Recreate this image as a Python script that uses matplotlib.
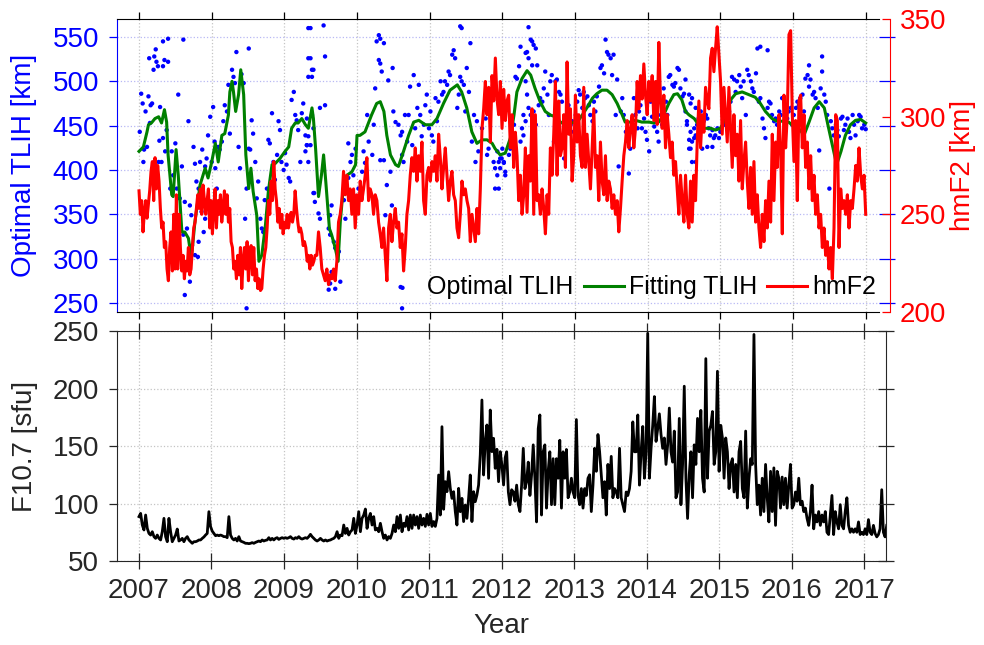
import numpy as np
import matplotlib
matplotlib.use("Agg")
import matplotlib.pyplot as plt

plt.rcParams['font.family'] = ['Liberation Sans', 'DejaVu Sans']

# Optimal TLIH (blue dots): decimal year, km
tlih_year = [
    2007.01, 2007.03, 2007.05, 2007.06, 2007.07, 2007.09, 2007.11, 2007.13, 2007.14, 2007.15,
    2007.16, 2007.18, 2007.20, 2007.21, 2007.23, 2007.24, 2007.26, 2007.27, 2007.28, 2007.29,
    2007.31, 2007.33, 2007.33, 2007.35, 2007.36, 2007.38, 2007.40, 2007.33, 2007.40, 2007.43,
    2007.45, 2007.47, 2007.50, 2007.52, 2007.54, 2007.56, 2007.59, 2007.61, 2007.63, 2007.66,
    2007.68, 2007.70, 2007.72, 2007.75, 2007.77, 2007.79, 2007.82, 2007.84, 2007.86, 2007.87,
    2007.89, 2007.91, 2007.93, 2007.95, 2007.98, 2008.00, 2008.02, 2008.04, 2008.05, 2008.07,
    2008.09, 2008.11, 2008.14, 2008.16, 2008.18, 2008.21, 2008.23, 2008.25, 2008.28, 2008.30,
    2008.32, 2008.34, 2008.37, 2008.39, 2008.41, 2008.44, 2008.46, 2008.48, 2008.51, 2008.53,
    2008.55, 2008.57, 2008.60, 2008.62, 2008.64, 2008.67, 2008.69, 2008.71, 2008.73, 2008.76,
    2008.78, 2008.80, 2008.83, 2008.85, 2008.87, 2008.90, 2008.92, 2008.94, 2008.96, 2008.99,
    2009.01, 2009.03, 2009.06, 2009.08, 2009.10, 2009.13, 2009.15, 2009.17, 2009.19, 2009.22,
    2009.24, 2009.26, 2009.29, 2009.31, 2009.33, 2009.36, 2009.38, 2009.40, 2009.41, 2008.51,
    2008.48, 2007.63, 2007.70, 2007.81, 2007.61, 2007.73, 2007.82, 2007.91, 2007.77,
    2009.33, 2009.54, 2009.36, 2009.56, 2009.38, 2009.33, 2009.56, 2009.49, 2009.38, 2009.31,
    2009.40, 2009.33, 2009.31, 2009.36, 2009.29, 2009.33, 2009.40, 2009.47, 2009.49, 2009.42,
    2009.65, 2009.63, 2009.61, 2009.63, 2009.68, 2009.70, 2009.75, 2009.77, 2009.70, 2009.63,
    2009.61, 2009.65, 2009.84, 2009.82, 2009.86, 2009.88, 2009.91, 2009.93, 2009.95, 2009.98,
    2009.88, 2009.95, 2010.02, 2010.07, 2010.09, 2010.11, 2010.14, 2010.16, 2010.21, 2010.23,
    2010.25, 2010.27, 2010.30, 2010.32, 2010.37, 2010.30, 2010.32, 2010.34, 2010.43, 2010.49,
    2010.50, 2010.53, 2010.37, 2010.32, 2010.41, 2010.46, 2010.48, 2010.57, 2010.60, 2010.62,
    2010.62, 2010.64, 2010.66, 2010.69, 2010.71, 2010.73, 2010.76, 2010.78, 2010.80, 2010.83,
    2010.85, 2010.87, 2010.89, 2010.92, 2010.94, 2010.96, 2010.99, 2011.01, 2011.03, 2011.05,
    2011.08, 2011.10, 2011.12, 2011.15, 2011.17, 2011.19, 2011.21, 2011.24, 2011.26, 2011.28,
    2011.31, 2011.33, 2011.35, 2011.38, 2011.40, 2011.42, 2011.44, 2011.47, 2011.49, 2011.51,
    2011.54, 2011.56, 2011.58, 2011.61, 2011.63, 2011.65, 2011.67, 2011.72, 2011.77, 2011.79,
    2011.81, 2011.86, 2011.88, 2011.90, 2011.93, 2011.95, 2011.97, 2012.00, 2012.02, 2011.44,
    2011.42, 2010.62, 2010.60, 2010.46, 2010.39,
    2011.93, 2011.95, 2011.97, 2011.99, 2012.02, 2012.04, 2011.90, 2012.04, 2012.09, 2012.11,
    2012.16, 2012.18, 2012.20, 2012.23, 2012.36, 2012.25, 2012.32, 2012.34, 2012.36, 2012.39,
    2012.41, 2012.43, 2012.46, 2012.48, 2012.41, 2012.32, 2012.34, 2012.36, 2012.29, 2012.32,
    2012.27, 2012.29, 2012.25, 2012.39, 2012.43, 2012.46, 2012.50, 2012.52, 2012.55, 2012.57,
    2012.59, 2012.62, 2012.64, 2012.66, 2012.68, 2012.71, 2012.73, 2012.75, 2012.78, 2012.80,
    2012.82, 2012.85, 2012.87, 2012.89, 2012.91, 2012.94, 2012.96, 2012.98, 2013.01, 2013.03,
    2013.05, 2013.07, 2013.10, 2013.12, 2013.14, 2013.17, 2013.19, 2013.21, 2013.24, 2013.26,
    2013.28, 2013.30, 2013.33, 2013.35, 2013.37, 2013.40, 2013.42, 2013.44, 2013.46, 2013.49,
    2013.51, 2013.53, 2013.56, 2013.58, 2013.60, 2013.63, 2013.65, 2013.67, 2013.70, 2013.72,
    2013.74, 2013.76, 2013.79, 2013.81, 2013.83, 2013.86, 2013.88, 2013.90, 2013.92, 2013.95,
    2013.97, 2013.99, 2014.02, 2014.04, 2014.06, 2014.09, 2014.11, 2014.13, 2014.15, 2014.18,
    2014.20, 2014.22, 2014.25, 2014.27, 2014.29, 2014.31, 2014.34, 2014.36, 2014.38, 2014.41,
    2014.43, 2014.45, 2014.48, 2014.50, 2014.52, 2014.54, 2014.57, 2014.59, 2014.61, 2014.64,
    2014.66,
    2014.52, 2014.57, 2014.59, 2014.61, 2014.66, 2014.54, 2014.59, 2014.64, 2014.68, 2014.70,
    2014.73, 2014.75, 2014.77, 2014.80, 2014.82, 2014.84, 2014.86, 2014.89, 2014.91, 2014.93,
    2014.96, 2014.98, 2015.00, 2014.57, 2014.61, 2014.66, 2014.75, 2014.82, 2014.89, 2015.05,
    2015.07, 2015.09, 2015.12, 2015.14, 2015.16, 2015.19, 2015.21, 2015.23, 2015.26, 2015.28,
    2015.30, 2015.32, 2015.35, 2015.37, 2015.39, 2015.42, 2015.44, 2015.46, 2015.49, 2015.51,
    2015.53, 2015.55, 2015.58, 2015.60, 2015.62, 2015.65, 2015.67, 2015.69, 2015.71, 2015.74,
    2015.76, 2015.78, 2015.81, 2015.83, 2015.85, 2015.88, 2015.90, 2015.92, 2015.94, 2015.97,
    2015.99, 2016.01, 2016.04, 2016.06, 2016.08, 2016.10, 2016.13, 2016.15, 2016.17, 2016.20,
    2016.22, 2016.24, 2016.27, 2016.29, 2016.31, 2016.34, 2016.36, 2016.38, 2016.40, 2016.43,
    2016.45, 2016.47, 2016.50, 2016.52, 2016.54, 2016.56, 2016.59, 2016.61, 2016.63, 2016.66,
    2016.68, 2016.70, 2016.72, 2016.75, 2016.77, 2016.79, 2016.82, 2016.84, 2016.86, 2016.89,
    2016.91, 2016.93, 2016.95, 2016.98, 2017.00, 2015.55, 2015.65, 2016.22, 2016.40,
]
tlih_km = [
    443, 486, 475, 409, 423, 466, 426, 483, 526, 453,
    473, 475, 513, 528, 536, 522, 517, 409, 433, 471,
    409, 517, 436, 524, 421, 445, 522, 545, 548, 379,
    421, 394, 430, 379, 485, 368, 404, 547, 364, 334,
    455, 360, 349, 426, 407, 387, 379, 409, 353, 423,
    330, 404, 413, 439, 460, 409, 471, 432, 402, 379,
    426, 423, 432, 455, 473, 466, 496, 441, 513, 505,
    498, 533, 426, 402, 508, 498, 345, 379, 424, 423,
    456, 441, 409, 368, 387, 345, 334, 330, 366, 379,
    434, 430, 464, 409, 389, 417, 455, 445, 409, 400,
    419, 406, 391, 387, 479, 488, 462, 456, 445, 409,
    464, 475, 439, 428, 526, 560, 505, 513, 374, 537,
    244, 259, 274, 302, 327, 315, 319, 345, 304,
    560, 563, 526, 528, 513, 505, 473, 470, 462, 458,
    447, 438, 428, 428, 421, 409, 374, 351, 345, 364,
    360, 349, 334, 327, 319, 312, 308, 274, 266, 272,
    265, 285, 345, 366, 379, 391, 409, 417, 394, 424,
    430, 372, 379, 398, 421, 408, 462, 432, 417, 451,
    492, 545, 552, 548, 543, 524, 520, 511, 501, 515,
    466, 454, 411, 411, 383, 398, 360, 451, 439, 443,
    417, 409, 462, 432, 462, 494, 428, 507, 447, 470,
    496, 462, 438, 451, 473, 485, 447, 466, 439, 432,
    481, 455, 477, 500, 485, 488, 500, 496, 511, 507,
    530, 535, 526, 470, 485, 505, 500, 496, 466, 515,
    488, 543, 432, 462, 409, 455, 421, 447, 458, 417,
    424, 481, 409, 402, 394, 379, 413, 424, 409, 560,
    562, 244, 268, 342, 349,
    421, 409, 402, 413, 408, 398, 379, 394, 417, 424,
    451, 505, 503, 517, 561, 539, 532, 533, 526, 547,
    545, 541, 537, 518, 518, 500, 485, 470, 462, 455,
    447, 439, 432, 462, 466, 451, 473, 481, 477, 492,
    511, 485, 462, 500, 507, 432, 500, 502, 488, 485,
    477, 413, 443, 462, 473, 451, 455, 443, 462, 477,
    490, 485, 470, 488, 481, 483, 473, 462, 455, 477,
    466, 483, 494, 515, 518, 509, 547, 533, 530, 526,
    507, 530, 462, 502, 404, 466, 481, 462, 443, 439,
    396, 424, 451, 481, 462, 447, 466, 473, 447, 458,
    443, 434, 421, 477, 460, 449, 462, 443, 432, 462,
    451, 492, 477, 462, 505, 507, 496, 494, 498, 515,
    513, 492, 483, 486, 466, 455, 434, 424, 409, 447,
    439,
    502, 485, 475, 481, 470, 451, 443, 436, 451, 458,
    466, 445, 455, 462, 458, 447, 439, 445, 436, 439,
    447, 436, 443, 424, 432, 409, 424, 426, 426, 451,
    455, 462, 466, 477, 505, 502, 488, 500, 507, 494,
    481, 500, 462, 513, 507, 500, 492, 488, 509, 537,
    477, 481, 458, 447, 436, 470, 477, 475, 462, 455,
    458, 451, 466, 462, 481, 432, 447, 458, 466, 470,
    451, 462, 470, 477, 473, 481, 485, 466, 503, 507,
    494, 502, 485, 488, 481, 470, 422, 492, 528, 485,
    477, 462, 379, 455, 447, 439, 451, 445, 438, 458,
    460, 445, 451, 458, 443, 436, 462, 451, 439, 455,
    462, 460, 447, 451, 446, 539, 535, 518, 511,
]

# Fitting TLIH (green line)
fit_year = [
    2007.00, 2007.06, 2007.11, 2007.13, 2007.17, 2007.22, 2007.27, 2007.31, 2007.35, 2007.38,
    2007.40, 2007.45, 2007.47, 2007.51, 2007.54, 2007.59, 2007.63, 2007.68, 2007.72, 2007.77,
    2007.84, 2007.91, 2007.95, 2008.00, 2008.05, 2008.09, 2008.14, 2008.18, 2008.23, 2008.25,
    2008.28, 2008.30, 2008.33, 2008.37, 2008.40, 2008.44, 2008.47, 2008.51, 2008.54, 2008.57,
    2008.62, 2008.65, 2008.69, 2008.74, 2008.78, 2008.83, 2008.87, 2008.94, 2009.01, 2009.06,
    2009.10, 2009.15, 2009.19, 2009.24, 2009.29, 2009.33, 2009.38, 2009.40, 2009.43, 2009.47,
    2009.51, 2009.54, 2009.57, 2009.62, 2009.65, 2009.70, 2009.74, 2009.77, 2009.81, 2009.86,
    2009.93, 2009.98, 2010.00, 2010.04, 2010.11, 2010.20, 2010.27, 2010.32, 2010.37, 2010.41,
    2010.46, 2010.53, 2010.57, 2010.64, 2010.71, 2010.78, 2010.85, 2010.94, 2011.03, 2011.10,
    2011.19, 2011.28, 2011.38, 2011.44, 2011.51, 2011.58, 2011.65, 2011.72, 2011.79, 2011.86,
    2011.90, 2011.97, 2012.04, 2012.11, 2012.16, 2012.20, 2012.27, 2012.34, 2012.39, 2012.45,
    2012.52, 2012.59, 2012.66, 2012.73, 2012.80, 2012.87, 2012.94, 2013.03, 2013.10, 2013.17,
    2013.24, 2013.30, 2013.37, 2013.44, 2013.51, 2013.58, 2013.65, 2013.69, 2013.76, 2013.83,
    2013.92, 2014.02, 2014.08, 2014.15, 2014.22, 2014.29, 2014.36, 2014.41, 2014.47, 2014.52,
    2014.57, 2014.64, 2014.70, 2014.77, 2014.87, 2014.93, 2015.00, 2015.07, 2015.14, 2015.21,
    2015.30, 2015.39, 2015.48, 2015.55, 2015.62, 2015.71, 2015.78, 2015.88, 2015.94, 2016.01,
    2016.10, 2016.15, 2016.22, 2016.29, 2016.36, 2016.43, 2016.49, 2016.56, 2016.60, 2016.66,
    2016.72, 2016.79, 2016.86, 2016.93, 2017.00,
]
fit_km = [
    421, 426, 443, 451, 453, 458, 460, 453, 468, 454,
    417, 372, 370, 423, 394, 330, 330, 323, 300, 342,
    383, 402, 391, 409, 430, 409, 439, 441, 462, 488,
    500, 488, 466, 485, 513, 485, 417, 379, 402, 376,
    349, 297, 304, 338, 376, 406, 407, 413, 421, 426,
    447, 453, 453, 458, 451, 447, 470, 458, 424, 370,
    394, 417, 387, 334, 327, 312, 297, 342, 379, 394,
    398, 406, 439, 439, 443, 462, 475, 477, 466, 439,
    417, 406, 404, 421, 439, 454, 456, 451, 451, 458,
    475, 490, 496, 488, 470, 443, 430, 434, 434, 430,
    424, 417, 419, 436, 462, 488, 503, 512, 507, 492,
    477, 466, 462, 460, 454, 451, 453, 454, 462, 471,
    481, 486, 490, 490, 485, 475, 462, 454, 454, 456,
    454, 454, 453, 454, 462, 475, 485, 486, 479, 466,
    462, 458, 451, 447, 447, 445, 447, 458, 479, 486,
    488, 485, 482, 475, 466, 458, 455, 455, 454, 449,
    445, 439, 454, 470, 477, 470, 447, 421, 406, 421,
    439, 451, 456, 457, 453,
]

# hmF2 (red line), read at a regular step in two blocks
hmf2_a = [  # 2007.00 to 2009.42
    262, 250, 257, 241, 251, 257, 248, 255, 262, 272,
    277, 257, 279, 263, 275, 267, 253, 243, 246, 233,
    236, 222, 216, 233, 241, 221, 250, 222, 260, 222,
    250, 233, 221, 229, 217, 226, 221, 233, 219, 222,
    233, 243, 246, 253, 260, 253, 263, 250, 265, 257,
    250, 257, 263, 243, 257, 240, 253, 263, 243, 257,
    250, 260, 246, 253, 262, 250, 260, 246, 253, 236,
    233, 222, 226, 217, 229, 219, 233, 212, 226, 233,
    222, 236, 216, 229, 234, 219, 233, 216, 222, 212,
    217, 211, 212, 222, 229, 233, 243, 257, 250, 267,
    257, 277, 263, 257, 246, 253, 243, 250, 240, 246,
    243, 250, 243, 248, 251, 246, 250, 262, 253, 246,
    241, 243, 240, 234, 236, 233, 226, 229, 222, 229,
    224, 226, 229,
]
hmf2_b = [  # 2009.45 to 2017.00
    229, 241, 233, 222, 219, 216, 222, 214, 219, 217,
    222, 216, 226, 246, 250, 257, 272, 260, 270, 257,
    263, 250, 263, 243, 260, 250, 267, 257, 263, 270,
    279, 257, 263, 260, 250, 260, 257, 246, 240, 233,
    243, 229, 216, 243, 250, 236, 246, 253, 243, 246,
    233, 240, 221, 233, 250, 257, 270, 279, 272, 284,
    267, 280, 272, 287, 257, 250, 270, 274, 267, 277,
    272, 280, 267, 291, 279, 263, 274, 284, 270, 257,
    267, 272, 260, 257, 243, 238, 250, 267, 260, 263,
    257, 253, 236, 250, 243, 236, 253, 240, 263, 294,
    304, 318, 301, 315, 287, 321, 308, 330, 309, 301,
    318, 294, 314, 298,
    308, 311, 284, 301, 274, 292, 280, 257, 270, 250,
    260, 284, 251, 280, 267, 304, 250, 301, 257, 260,
    250, 263, 253, 240, 260, 250, 284, 270, 291, 318,
    270, 308, 280, 284, 301, 274, 328, 291, 304, 267,
    280, 311, 287, 301, 280, 274, 315, 274, 291, 277,
    263, 284, 304, 274, 280, 257, 287, 267, 260, 280,
    257, 267, 263, 253, 260, 250, 257, 241, 253, 267,
    280, 287, 298, 284, 294, 301, 284, 294, 318, 304,
    321, 309, 327, 311, 301, 318, 308, 321, 298, 318,
    296, 338, 308, 294, 311, 284, 301, 291, 279, 287,
    270, 277, 263, 250, 270, 257, 246, 270, 250, 243,
    267, 246, 270, 257,
    287, 308, 284, 301, 292, 315, 308, 304, 330, 335,
    323, 335, 346, 332, 318, 291, 315, 301, 287, 315,
    294, 274, 301, 280, 291, 267, 298, 263, 277, 287,
    267, 253, 274, 250, 277, 246, 260, 243, 233, 250,
    236, 257, 243, 267, 246, 291, 257, 287, 274, 301,
    284, 240, 311, 284, 301, 342, 344, 301, 277, 298,
    257, 308, 311, 284, 301, 274, 287, 263, 280, 257,
    270, 250, 260, 243, 250, 233, 243, 229, 236, 222,
    233, 217, 243, 301, 298, 233, 263, 253, 257, 250,
    260, 243, 257, 253, 263, 275, 267, 284, 270, 263,
    270, 250,
]

# F10.7 (black line), read at a regular step in two blocks
f107_a = [  # 2007.00 to 2012.05
    88.6, 91.4, 81.3, 77, 90, 78.4, 74, 72.6, 75.5, 71.2,
    69.7, 72.6, 69.7, 68.3, 75.5, 87.1, 71.2, 66.8, 87.1, 75.5,
    66.8, 69.7, 72.6, 77.8, 67.4, 68.3, 69.7, 66.8, 69.7, 71.2,
    68.3, 66.8, 65.4, 66.8, 66.8, 67.4, 68.3, 68.3, 69.7, 70.9,
    72.6, 74, 92.9, 80, 76, 74, 72, 72.6, 72, 72.6,
    72, 71.2, 71.2, 70.3, 88.6, 72.6, 69.7, 68.3, 69.7, 67.4,
    71.2, 67.4, 66.8, 66.2, 65.4, 65.4, 65.1, 65.4, 66, 65.4,
    66.2, 66.8, 67.4, 66.8, 68.3, 67.4, 68, 68.3, 70.3, 68.3,
    69.7, 68.3, 69.7, 70.3, 68.8, 69.7, 70.3, 69.7, 70.3, 69.7,
    70.3, 71.2, 69.7, 69.1, 70.3, 69.7, 71.2, 69.7, 69.1, 69.7,
    70.3, 69.7, 71.2, 73.2, 71.2, 69.7, 68.3, 67.4, 68.3, 69.7,
    68.3, 67.4, 68.3, 67.4, 68, 68.3, 69.1, 69.7, 71.2, 75.5,
    69.7, 72.6, 72, 81.3, 74, 78.4, 72.6, 75.5, 77, 87.1,
    74, 81.3, 92.9, 75.5, 87.1, 90, 95.2, 78.4, 87.1, 91.4,
    81.3, 88.6, 77, 78.4, 75.5, 82.8, 75.5, 69.7, 72.6, 68.3,
    71.2, 69.7, 74, 81.3, 75.5, 88.6, 78.4, 90, 75.5, 82.8,
    80.1, 88.6, 77, 90, 78.4, 90, 81.3, 88.6, 78.4, 90,
    81.3, 87.1, 80.1, 90.6, 81.3, 91.4, 80.1, 84.3, 80.1, 87.1,
    124.8, 90, 166.8, 95, 119, 110.3, 127.7, 113.2, 104.5, 110.3,
    92.9, 81.3, 113.2, 92.9, 104.5, 84.3, 98.7, 87.1, 104.5, 124.8,
    84.3, 110.3, 101.6, 107.4, 116.1, 142.2, 190, 124.8, 153.8, 168.3,
    121.9, 181.3, 145.1, 156.7, 130.6, 147.2, 119, 145.1, 133.5, 116.1,
    140,
]
f107_b = [  # 2012.07 to 2017.31
    145, 110, 99, 112, 110, 102, 116, 99, 93, 116,
    148, 113, 119, 136, 107, 125, 151, 122, 84, 165,
    177, 90, 145, 151, 96, 128, 145, 99, 139, 99,
    139, 122, 155, 96, 145, 122, 147, 105, 110, 122,
    110, 105, 173, 107, 99, 113, 96, 113, 107, 122,
    125, 93, 116, 148, 128, 160, 145, 125, 105, 119,
    90, 134, 113, 141, 105, 113, 110, 105, 148, 105,
    99, 93, 110, 107, 113, 128, 171, 145, 145, 177,
    116, 145, 167, 122, 145, 248, 122, 148, 168, 193,
    154, 165, 178, 160,
    148, 157, 134, 151, 183, 145, 136, 163, 105, 110,
    174, 99, 134, 202, 122, 87, 125, 145, 105, 151,
    134, 174, 145, 181, 122, 110, 226, 122, 163, 168,
    180, 134, 145, 215, 128, 168, 157, 122, 157, 145,
    113, 134, 139, 110, 134, 105, 145, 154, 113, 105,
    163, 96, 122, 139, 134, 247, 134, 99, 116, 90,
    122, 93, 134, 105, 84, 128, 93, 131, 81, 128,
    122, 96, 123, 99, 122, 96, 116, 134, 96, 99,
    110, 102, 122, 99, 102, 93, 96, 87, 81, 93,
    116, 78, 90, 84, 93, 81, 90, 84, 93, 75,
    73, 90, 107, 73, 93, 84, 78, 99, 81, 78,
    93, 105, 81, 75, 78, 75, 78, 75, 84, 73,
    75, 73, 78, 73, 86, 75, 73, 81, 74, 71,
    73, 78, 112, 75, 71, 81,
]

year_ticks = list(range(2007, 2018))
tlih_ticks = [250, 300, 350, 400, 450, 500, 550]
hmf2_ticks = [200, 250, 300, 350]
f107_ticks = [50, 100, 150, 200, 250]

hmf2_year = np.concatenate([np.linspace(2007.0, 2009.424, len(hmf2_a)),
                            np.linspace(2009.447, 2017.0, len(hmf2_b))])
hmf2 = np.concatenate([hmf2_a, hmf2_b])
f107_year = np.concatenate([np.linspace(2007.0, 2012.05, len(f107_a)),
                            np.linspace(2012.07, 2017.31, len(f107_b))])
f107 = np.concatenate([f107_a, f107_b])

dark = '#262626'
fs = 20

fig = plt.figure(figsize=(9.84, 6.45), dpi=100)

# ---- top panel ----
ax1 = fig.add_axes([0.1189, 0.5163, 0.7744, 0.4543])
ax1t = ax1.twinx()
ax1r = ax1.twinx()

ax1.scatter(tlih_year, tlih_km, s=10, color='blue', edgecolors='none',
            label='Optimal TLIH', zorder=2)
ax1.plot(fit_year, fit_km, color='#008000', lw=2.2, label='Fitting TLIH', zorder=3)
ax1r.plot(hmf2_year, hmf2, color='red', lw=2.2, label='hmF2')

ax1.set_xlim(2006.697, 2017.183)
ax1.set_ylim(239.85, 570.3)
ax1.set_xticks(year_ticks)
ax1.set_yticks(tlih_ticks)
ax1.set_axisbelow(True)
ax1.grid(True, axis='x', ls=':', color='#c4c4c4', lw=0.9)
ax1.grid(True, axis='y', ls=':', color='#b8b8f4', lw=0.9)
ax1.tick_params(axis='x', which='both', direction='out', length=5, width=0.9,
                top=True, bottom=True, labelbottom=False, color='black')
ax1.tick_params(axis='y', direction='out', length=5.8, width=0.9, color='blue',
                labelcolor='blue', labelsize=fs, pad=7)
ax1.spines['left'].set_color('blue')
ax1.spines['right'].set_visible(False)
for s in ['top', 'bottom']:
    ax1.spines[s].set_color('black')
ax1.set_ylabel('Optimal TLIH [km]', color='blue', fontsize=fs)
ax1.yaxis.set_label_coords(-0.1046, 0.5)

ax1t.set_ylim(ax1.get_ylim())
ax1t.set_yticks(tlih_ticks)
ax1t.tick_params(axis='y', direction='out', length=11.5, width=0.9, color='blue',
                 labelright=False)
for s in ax1t.spines.values():
    s.set_visible(False)

ax1r.set_ylim(200, 350)
ax1r.set_yticks(hmf2_ticks)
ax1r.tick_params(axis='y', direction='in', length=5.8, width=0.9, color='red',
                 labelcolor='red', labelsize=fs, pad=7)
for s in ['left', 'top', 'bottom']:
    ax1r.spines[s].set_visible(False)
ax1r.spines['right'].set_color('red')
ax1r.spines['right'].set_position(('outward', 8))
ax1r.set_ylabel('hmF2 [km]', color='red', fontsize=fs)
ax1r.yaxis.set_label_coords(1.093, 0.5)

h1, l1 = ax1.get_legend_handles_labels()
h2, l2 = ax1r.get_legend_handles_labels()
ax1r.legend(h1 + h2, l1 + l2, loc='center right', bbox_to_anchor=(0.996, 0.084),
            ncol=3, frameon=False, fontsize=18, handlelength=1.6, handletextpad=0.2,
            columnspacing=0.4, borderpad=0, borderaxespad=0, scatterpoints=1)

# ---- bottom panel ----
ax2 = fig.add_axes([0.1189, 0.1302, 0.7815, 0.3566])
ax2t = ax2.twinx()
ax2.plot(f107_year, f107, color='black', lw=2.0)
ax2.set_xlim(2006.697, 2017.30)
ax2.set_ylim(50, 250)
ax2.set_xticks(year_ticks)
ax2.set_yticks(f107_ticks)
ax2.set_axisbelow(True)
ax2.grid(True, ls=':', color='#c4c4c4', lw=0.9)
ax2.tick_params(axis='x', direction='inout', length=11, width=0.9, top=True,
                color=dark, labelcolor=dark, labelsize=fs, pad=7)
ax2.tick_params(axis='y', direction='out', length=5.8, width=0.9, color=dark,
                labelcolor=dark, labelsize=fs, pad=7)
for s in ax2.spines.values():
    s.set_color(dark)
ax2.set_xlabel('Year', color=dark, fontsize=fs)
ax2.xaxis.set_label_coords(0.5, -0.226)
ax2.set_ylabel('F10.7 [sfu]', color=dark, fontsize=fs)
ax2.yaxis.set_label_coords(-0.1023, 0.5)

ax2t.set_ylim(50, 250)
ax2t.set_yticks(f107_ticks)
ax2t.tick_params(axis='y', direction='inout', length=12, width=0.9, color=dark,
                 labelright=False)
for s in ax2t.spines.values():
    s.set_visible(False)

fig.savefig('out.png', dpi=100)
